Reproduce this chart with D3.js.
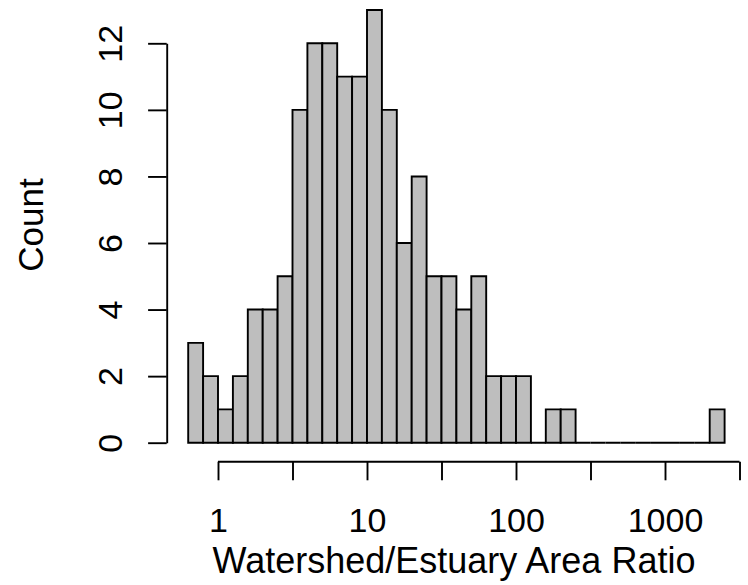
<!DOCTYPE html>
<meta charset="utf-8">
<title>Watershed/Estuary Area Ratio</title>
<style>
  body { margin: 0; background-color: #fff; }
  text { font-family: "Liberation Sans", Arial, sans-serif; fill: #000; }
</style>
<body>
<script src="https://d3js.org/d3.v7.min.js"></script>
<script>

// histogram bins, edges in log10 units
const binEdges = [-0.2, -0.1, 0.0, 0.1, 0.2, 0.3, 0.4, 0.5, 0.6, 0.7, 0.8, 0.9,
  1.0, 1.1, 1.2, 1.3, 1.4, 1.5, 1.6, 1.7, 1.8, 1.9, 2.0, 2.1, 2.2, 2.3, 2.4,
  2.5, 2.6, 2.7, 2.8, 2.9, 3.0, 3.1, 3.2, 3.3, 3.4];
const counts = [3, 2, 1, 2, 4, 4, 5, 10, 12, 12, 11, 11, 13, 10, 6, 8, 5, 5,
  4, 5, 2, 2, 2, 0, 1, 1, 0, 0, 0, 0, 0, 0, 0, 0, 0, 1];

const xTicks = [1, 3.1623, 10, 31.623, 100, 316.23, 1000, 3162.3];
const xTickLabels = ["1", "", "10", "", "100", "", "1000", ""];
const yTicks = [0, 2, 4, 6, 8, 10, 12];

const width = 748,
  height = 585,
  fontSize = 34,
  labSize = 35,
  tickLen = 18.6,
  lw = 1.9;

const x = d3.scaleLog().domain([1, 1000]).range([218, 665]);
const y = d3.scaleLinear().domain([0, 12]).range([442.7, 43.3]);
const axisY = 461.7,   // x axis line
  axisX = 166.7;       // y axis line

const svg = d3.select("body").append("svg")
    .attr("width", width)
    .attr("height", height);

// bars (zero bins collapse to a line, like R)
svg.append("g")
  .selectAll("path")
  .data(counts)
  .enter().append("path")
    .attr("d", (c, i) => {
      const x0 = x(Math.pow(10, binEdges[i])), x1 = x(Math.pow(10, binEdges[i + 1]));
      return `M${x0},${y(0)}H${x1}V${y(c)}H${x0}Z`;
    })
    .style("fill", "#bebebe")
    .style("stroke", "#000")
    .style("stroke-width", lw);

// x axis
const gx = svg.append("g")
    .attr("transform", `translate(0,${axisY})`)
    .call(d3.axisBottom(x).tickValues(xTicks).tickSize(tickLen).tickSizeOuter(0)
      .tickFormat((d, i) => xTickLabels[i]));
gx.select(".domain").remove();
gx.append("line")
    .attr("x1", x(xTicks[0]))
    .attr("x2", x(xTicks[xTicks.length - 1]))
    .attr("stroke", "#000");
gx.selectAll("line").attr("stroke-width", lw);
gx.selectAll("text")
    .attr("y", 70)
    .attr("dy", 0)
    .style("font-size", fontSize + "px")
    .style("font-family", '"Liberation Sans", Arial, sans-serif')
    .attr("fill", "#000");

// y axis
const gy = svg.append("g")
    .attr("transform", `translate(${axisX},0)`)
    .call(d3.axisLeft(y).tickValues(yTicks).tickSize(tickLen).tickSizeOuter(0));
gy.select(".domain").attr("stroke-width", lw);
gy.selectAll("line").attr("stroke-width", lw);
gy.selectAll("text")
    .attr("x", 0)
    .attr("dy", 0)
    .attr("text-anchor", "middle")
    .attr("transform", "translate(-44.7,0) rotate(-90)")
    .style("font-size", fontSize + "px")
    .style("font-family", '"Liberation Sans", Arial, sans-serif')
    .attr("fill", "#000");

// axis titles
svg.append("text")
    .attr("x", 454)
    .attr("y", 573)
    .attr("text-anchor", "middle")
    .style("font-size", "36px")
    .text("Watershed/Estuary Area Ratio");

svg.append("text")
    .attr("transform", "translate(43.3,225) rotate(-90)")
    .attr("text-anchor", "middle")
    .style("font-size", labSize + "px")
    .text("Count");

</script>
